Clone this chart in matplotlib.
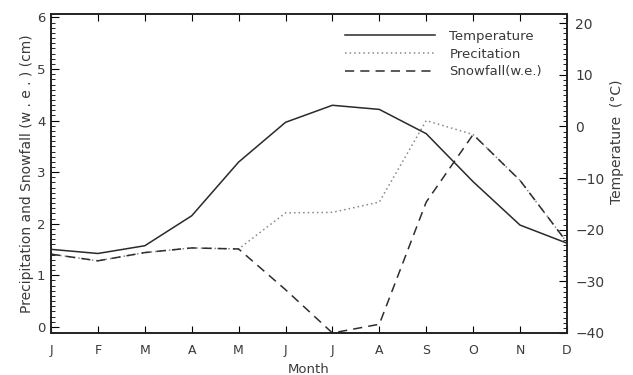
import matplotlib
matplotlib.use("Agg")
import matplotlib.pyplot as plt
from matplotlib.ticker import MultipleLocator

months = ["J", "F", "M", "A", "M", "J", "J", "A", "S", "O", "N", "D"]
temperature = [-23.8, -24.6, -23.1, -17.3, -6.9, 0.8, 4.1, 3.3, -1.4, -10.7, -19.1, -22.6]
precipitation = [1.41, 1.28, 1.44, 1.53, 1.51, 2.21, 2.22, 2.42, 4.0, 3.73, 2.84, 1.64]
snowfall = [1.41, 1.28, 1.44, 1.53, 1.51, 0.72, -0.12, 0.05, 2.42, 3.73, 2.84, 1.64]

plt.rcParams['font.family'] = ['DejaVu Sans']
txt = '#3a3a3a'

fig = plt.figure(figsize=(6.33, 3.75), dpi=100)
ax = fig.add_axes([0.0806, 0.112, 0.815, 0.851])
ax2 = ax.twinx()

x = list(range(len(months)))
l1, = ax2.plot(x, temperature, color='#2a2a2a', lw=1.1, ls='-', label='Temperature')
l2, = ax.plot(x, precipitation, color='#888888', lw=1.1, ls=(0, (1, 2)), label='Precitation')
l3, = ax.plot(x, snowfall, color='#2e2e2e', lw=1.1, ls=(0, (6, 4)), label='Snowfall(w.e.)')

ax.set_xlim(0, 11)
ax.set_ylim(-0.12, 6.07)
ax2.set_ylim(-40, 21.8)

ax.set_xticks(x)
ax.set_xticklabels(months)
ax.yaxis.set_major_locator(MultipleLocator(1))
ax.yaxis.set_minor_locator(MultipleLocator(0.1))
ax2.yaxis.set_major_locator(MultipleLocator(10))
ax2.yaxis.set_minor_locator(MultipleLocator(1))

ax.tick_params(axis='x', which='major', direction='in', top=True, length=5, width=0.8,
               labelsize=9, labelcolor=txt, pad=8)
ax.tick_params(axis='y', which='major', direction='in', length=6, width=0.8,
               labelsize=9.5, labelcolor=txt, pad=4)
ax.tick_params(axis='y', which='minor', direction='in', length=3, width=0.6)
ax2.tick_params(axis='y', which='major', direction='in', length=6, width=0.8,
                labelsize=10, labelcolor=txt, pad=6)
ax2.tick_params(axis='y', which='minor', direction='in', length=3, width=0.6)

for a in (ax, ax2):
    for s in a.spines.values():
        s.set_linewidth(1.2)
        s.set_color('#222222')

ax.set_xlabel('Month', fontsize=9.5, color=txt, labelpad=4)
ax.set_ylabel('Precipitation and Snowfall (w . e . ) (cm)', fontsize=10, color=txt, labelpad=2)
ax2.set_ylabel('Temperature  (°C)', fontsize=10, color=txt)
ax2.yaxis.set_label_coords(1.083, 0.60)

leg = ax.legend(handles=[l1, l2, l3], loc='upper left', bbox_to_anchor=(0.565, 0.958),
                frameon=False, fontsize=9.5, handlelength=6.8, handletextpad=1.1,
                labelspacing=0.35, borderaxespad=0.0, borderpad=0.2)
for t in leg.get_texts():
    t.set_color(txt)

fig.savefig('out.png', dpi=100)
